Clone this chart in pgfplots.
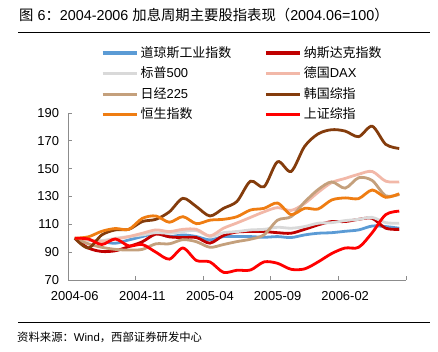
\documentclass[border=0pt]{standalone}
\usepackage{fontspec}
\setmainfont{Liberation Sans}
\newfontfamily\cjk{Noto Sans CJK SC}
\usepackage{pgfplots}
\usepackage{pgfplotstable}
\pgfplotsset{compat=1.18}
\definecolor{cDow}{HTML}{5B9BD5}
\definecolor{cNas}{HTML}{C00000}
\definecolor{cSP}{HTML}{D9D9D9}
\definecolor{cDAX}{HTML}{F2B8A8}
\definecolor{cNik}{HTML}{C4A07C}
\definecolor{cKos}{HTML}{843C0C}
\definecolor{cHSI}{HTML}{EF7D12}
\definecolor{cSSE}{HTML}{FF0000}
\definecolor{axgray}{HTML}{8C8C8C}
\pgfplotstableread{
i dow nas sp dax nik kos hsi sse
0 100 100 100 100 100 100 100 100
1 98.8 93 98.8 98.8 96 93 101 99.5
2 97.6 90.5 98.3 97.6 93.5 102.4 105 95.5
3 96.4 91 100 99.3 92 106 107 99.5
4 98.8 94 101.2 101.2 91.5 106.4 106.4 94.5
5 101.2 97.5 102.4 103.6 92 112 114.3 95.5
6 103.6 103 104 106 96 113.6 116 90
7 101.2 101 103.6 104.8 96 119 111.5 85
8 102.4 100.5 104.8 106.4 99 128.7 115.5 93
9 101.2 100.5 105.5 106.4 97.5 122.7 110.5 84
10 98.8 96.5 101.2 101.7 93.5 116 113 83
11 101.2 102 104 107.2 95.5 121.5 113.6 75.5
12 101.2 104.5 104.8 111 97.6 126.5 115.5 77
13 101.2 104.8 106 115 99.3 141 120.3 77.2
14 100.7 104.8 106.4 119 102.5 137 121.5 83
15 101.2 104 107.9 122 113 155 125.3 82
16 100.5 103.6 107.2 120 115.5 148 117 77.7
17 102.4 106.4 108.4 125 126 166 121.5 78
18 103.6 109.6 110.8 133 135 175 121 83
19 104 112 111.2 140 140.5 178 127.5 89
20 105 112 112.7 143 136 177 129 93
21 106 113.6 113.6 146 143.5 173 128.5 93.5
22 108.8 114.3 115 148 141.5 180.5 134.7 104
23 108.4 107.2 111.2 141 130.5 167.5 129.4 117
24 107.2 106.4 110.8 140.5 131.5 164.5 132 119.5
}\datatable
\begin{document}
\begin{tikzpicture}
\begin{axis}[
  at={(68bp,-280bp)}, anchor=south west,
  scale only axis, width=338bp, height=167bp,
  xmin=-0.5, xmax=24.5, ymin=70, ymax=190,
  axis x line*=bottom, axis y line*=left,
  axis line style={draw=axgray, line width=0.8bp},
  tick align=inside, major tick length=4bp,
  tick style={draw=axgray, line width=0.8bp},
  ytick={70,90,...,190},
  xtick={-0.5,4.5,...,24.5}, xticklabels={},
  extra x ticks={0,5,10,15,20},
  extra x tick labels={2004-06,2004-11,2005-04,2005-09,2006-02},
  extra x tick style={major tick length=0pt},
  ticklabel style={font=\fontsize{13}{15}\selectfont, text=black},
  /pgf/number format/assume math mode=true,
  yticklabel style={xshift=-5.4bp},
  xticklabel style={yshift=-7.5bp},
  every axis plot/.append style={line width=2.8bp, smooth},
  legend columns=2, legend cell align=left,
  legend image code/.code={\draw[#1, line width=3.2bp] (0bp,0bp) -- (34bp,0bp);},
  legend style={at={(0.0976,1.395)}, anchor=north west, draw=none, fill=none,
    inner sep=0pt, outer sep=0pt, column sep=2.5bp, row sep=8.6bp,
    nodes={inner sep=0pt, text height=10bp, text depth=2bp, font=\fontsize{13}{14}\selectfont}},
]
\addplot[cDow] table[x=i,y=dow] {\datatable};
\addlegendentry{\makebox[121bp][l]{\cjk 道琼斯工业指数}}
\addplot[cNas] table[x=i,y=nas] {\datatable};
\addlegendentry{{\cjk 纳斯达克指数}}
\addplot[cSP] table[x=i,y=sp] {\datatable};
\addlegendentry{\makebox[121bp][l]{{\cjk 标普}500}}
\addplot[cDAX] table[x=i,y=dax] {\datatable};
\addlegendentry{{\cjk 德国}DAX}
\addplot[cNik] table[x=i,y=nik] {\datatable};
\addlegendentry{\makebox[121bp][l]{{\cjk 日经}225}}
\addplot[cKos] table[x=i,y=kos] {\datatable};
\addlegendentry{{\cjk 韩国综指}}
\addplot[cHSI] table[x=i,y=hsi] {\datatable};
\addlegendentry{\makebox[121bp][l]{\cjk 恒生指数}}
\addplot[cSSE] table[x=i,y=sse] {\datatable};
\addlegendentry{{\cjk 上证综指}}
\end{axis}
\node[anchor=west, inner sep=0pt, font=\fontsize{14.4}{16}\selectfont] at (19bp,-15bp)
  {{\cjk 图} 6{\cjk ：}2004-2006 {\cjk 加息周期主要股指表现（}2004.06=100{\cjk ）}};
\draw[line width=0.8bp, black] (18bp,-32bp) -- (430bp,-32bp);
\draw[line width=0.8bp, black] (18bp,-322bp) -- (430bp,-322bp);
\node[anchor=west, inner sep=0pt, font=\fontsize{11.4}{13}\selectfont] at (17bp,-337bp)
  {{\cjk 资料来源：}Wind{\cjk ，西部证券研发中心}};
\pgfresetboundingbox
\path[use as bounding box] (0,0) rectangle (438bp,-352bp);
\end{tikzpicture}
\end{document}
